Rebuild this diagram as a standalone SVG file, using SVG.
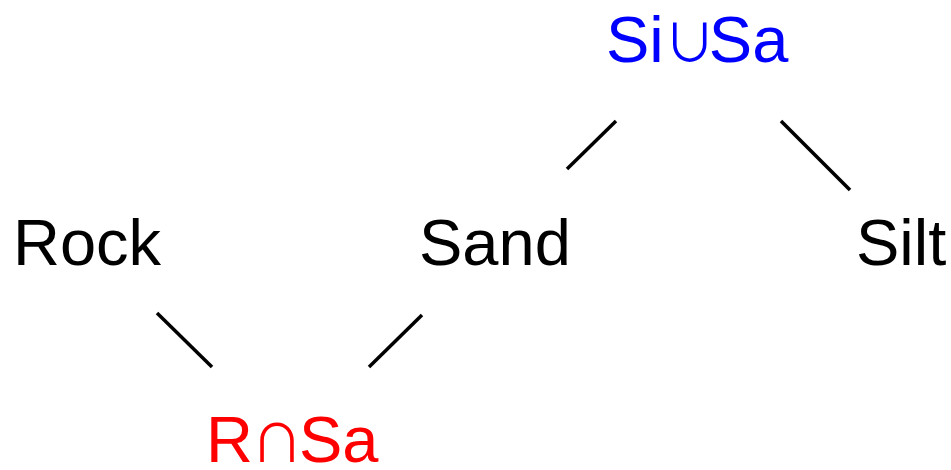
<svg xmlns="http://www.w3.org/2000/svg" width="951" height="470" viewBox="0 0 951 470">
<style>
text{font-family:"Liberation Sans",Arial,sans-serif;font-size:65px;fill:#000}
.sym{font-family:"Noto Sans CJK JP",sans-serif;font-size:52px}
.e{stroke:#000;stroke-width:3.5;fill:none}
</style>
<rect width="951" height="470" fill="#fff"/>
<g id="edges">
<line class="e" x1="616" y1="121" x2="567" y2="169"/>
<line class="e" x1="781" y1="121" x2="850" y2="190"/>
<line class="e" x1="157" y1="313" x2="212" y2="367"/>
<line class="e" x1="422" y1="315" x2="369" y2="367"/>
</g>
<g id="union"><text x="606" y="62" style="fill:#0000ff">Si<tspan class="sym">∪</tspan><tspan dx="-7">Sa</tspan></text></g>
<g id="rock"><text x="13" y="265">Rock</text></g>
<g id="sand"><text x="419" y="265">Sand</text></g>
<g id="silt"><text x="856" y="265">Silt</text></g>
<g id="intersection"><text x="206" y="462" style="fill:#ff0000">R<tspan class="sym" dx="-2">∩</tspan><tspan dx="-4">Sa</tspan></text></g>
</svg>
